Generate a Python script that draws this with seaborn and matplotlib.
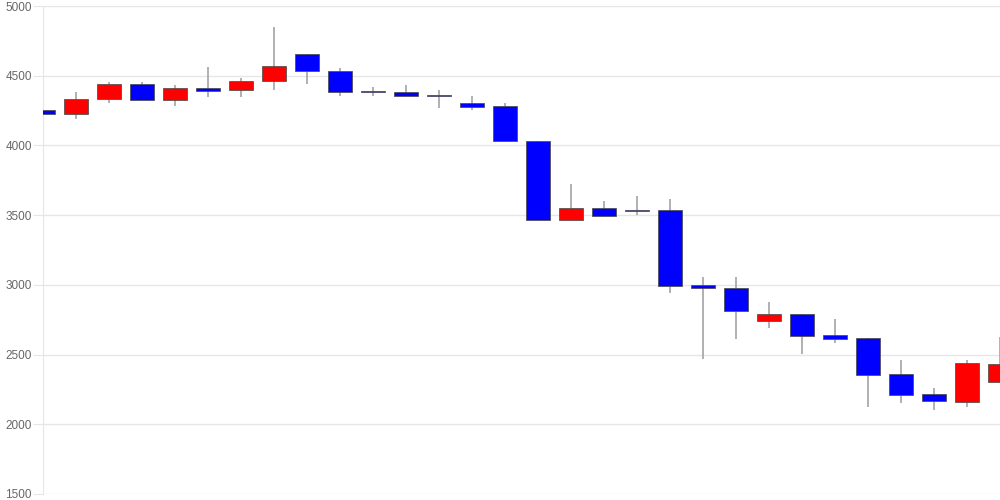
import numpy as np
import pandas as pd
import seaborn as sns
import matplotlib.pyplot as plt

# daily candles
opens = [4253, 4222, 4332, 4442, 4325, 4411, 4394, 4463, 4654, 4533,
         4382, 4382, 4356, 4303, 4284, 4034, 3463, 3554, 3540, 3535,
         2996, 2976, 2743, 2788, 2638, 2616, 2359, 2218, 2163, 2304]
closes = [4222, 4334, 4442, 4325, 4411, 4392, 4463, 4573, 4533, 4380,
          4380, 4351, 4354, 4279, 4031, 3463, 3554, 3492, 3530, 2991,
          2974, 2815, 2788, 2633, 2614, 2352, 2213, 2165, 2437, 2430]
highs = [4327, 4382, 4458, 4458, 4435, 4566, 4482, 4852, 4654, 4554,
         4422, 4435, 4394, 4356, 4303, 4034, 3726, 3604, 3635, 3616,
         3055, 3055, 2876, 2788, 2757, 2616, 2459, 2258, 2459, 2626]
lows = [4222, 4193, 4303, 4325, 4284, 4344, 4344, 4394, 4442, 4358,
        4358, 4351, 4272, 4251, 4031, 3463, 3463, 3492, 3504, 2944,
        2466, 2614, 2693, 2502, 2586, 2125, 2156, 2103, 2125, 2304]

df = pd.DataFrame({'open': opens, 'close': closes, 'high': highs, 'low': lows})
df['x'] = np.arange(len(df))
df['bottom'] = df[['open', 'close']].min(axis=1)
df['height'] = (df['close'] - df['open']).abs().clip(lower=7)
df['color'] = np.where(df['close'] >= df['open'], '#ff0000', '#0000ff')

sns.set_style('white')
plt.rcParams['font.family'] = ['Liberation Sans', 'DejaVu Sans']

fig = plt.figure(figsize=(10, 5), dpi=100)
ax = fig.add_axes([0.043, 0.012, 0.957, 0.976])

ax.vlines(df['x'], df['low'], df['high'], color='#aaaaaa', linewidth=1.3, zorder=2)
ax.bar(df['x'], df['height'], bottom=df['bottom'], width=0.73,
       color=df['color'], edgecolor='#4d4d4d', linewidth=0.55, zorder=3)

ax.set_xlim(0, len(df) - 1)
ax.set_ylim(1500, 5000)
ax.set_yticks(range(1500, 5001, 500))
ax.set_xticks([])
ax.grid(axis='y', color='#e6e6e6', linewidth=1)
ax.set_axisbelow(True)
ax.tick_params(axis='y', length=7, color='#e6e6e6', labelcolor='#666666',
               labelsize=8.5, pad=1, left=True)
sns.despine(ax=ax, top=True, right=True, bottom=True)
ax.spines['left'].set_color('#e6e6e6')

fig.savefig('out.png')
